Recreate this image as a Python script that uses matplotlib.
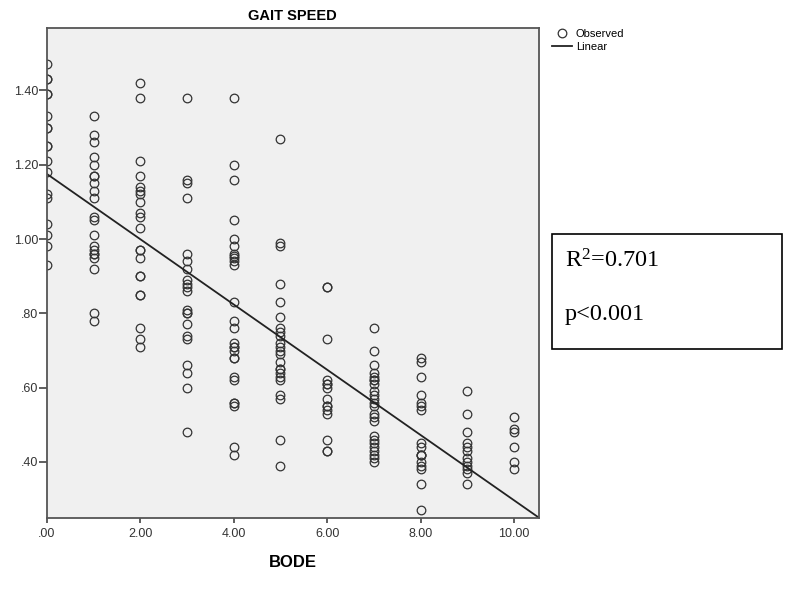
import numpy as np
import matplotlib
matplotlib.use('Agg')
import matplotlib.pyplot as plt
from matplotlib.ticker import FuncFormatter
from matplotlib.patches import Rectangle

# BODE score (x) and gait speed values, one list per score
bode_scores = [0, 1, 2, 3, 4, 5, 6, 7, 8, 9, 10]
speed_0 = [1.47, 1.43, 1.43, 1.39, 1.39, 1.33, 1.30, 1.30, 1.25, 1.25, 1.21, 1.18,
           1.12, 1.11, 1.04, 1.01, 0.98, 0.93]
speed_1 = [1.33, 1.28, 1.26, 1.22, 1.20, 1.17, 1.17, 1.15, 1.13, 1.11, 1.06, 1.05,
           1.01, 0.98, 0.97, 0.96, 0.96, 0.95, 0.92, 0.80, 0.78]
speed_2 = [1.42, 1.38, 1.21, 1.17, 1.14, 1.13, 1.12, 1.10, 1.07, 1.06, 1.03, 0.97,
           0.97, 0.95, 0.90, 0.90, 0.85, 0.85, 0.76, 0.73, 0.71]
speed_3 = [1.38, 1.16, 1.15, 1.11, 0.96, 0.94, 0.92, 0.89, 0.88, 0.87, 0.86, 0.81,
           0.80, 0.80, 0.77, 0.74, 0.73, 0.66, 0.64, 0.60, 0.48]
speed_4 = [1.38, 1.20, 1.16, 1.05, 1.00, 0.98, 0.96, 0.955, 0.95, 0.94, 0.93,
           0.83, 0.78, 0.76, 0.72, 0.71, 0.71, 0.70, 0.68, 0.68, 0.63, 0.62,
           0.56, 0.56, 0.55, 0.44, 0.42]
speed_5 = [1.27, 0.99, 0.98, 0.88, 0.83, 0.79, 0.76, 0.75, 0.74, 0.72, 0.71, 0.70,
           0.69, 0.67, 0.65, 0.65, 0.64, 0.63, 0.62, 0.58, 0.57, 0.46, 0.39]
speed_6 = [0.87, 0.87, 0.73, 0.62, 0.61, 0.61, 0.60, 0.57, 0.55, 0.55, 0.54, 0.53,
           0.46, 0.43, 0.43]
speed_7 = [0.76, 0.70, 0.66, 0.64, 0.63, 0.62, 0.62, 0.61, 0.59, 0.58, 0.57, 0.56,
           0.55, 0.53, 0.52, 0.51, 0.47, 0.46, 0.45, 0.44, 0.43, 0.42, 0.41, 0.40]
speed_8 = [0.68, 0.67, 0.63, 0.58, 0.56, 0.55, 0.54, 0.45, 0.44, 0.42, 0.42, 0.42,
           0.40, 0.39, 0.38, 0.34, 0.27]
speed_9 = [0.59, 0.53, 0.48, 0.45, 0.44, 0.43, 0.41, 0.40, 0.39, 0.38, 0.37, 0.34]
speed_10 = [0.52, 0.49, 0.48, 0.44, 0.40, 0.38]
speeds = [speed_0, speed_1, speed_2, speed_3, speed_4, speed_5,
          speed_6, speed_7, speed_8, speed_9, speed_10]

# fitted linear model as shown
fit_intercept = 1.175
fit_slope = -0.0878
r_squared = '0.701'
p_value = '0.001'

xticks = [0, 2, 4, 6, 8, 10]
yticks = [0.40, 0.60, 0.80, 1.00, 1.20, 1.40]
xlim = (0, 10.53)
ylim = (0.25, 1.568)

plt.rcParams['font.family'] = ['Liberation Sans', 'DejaVu Sans']
plt.rcParams['mathtext.fontset'] = 'custom'
plt.rcParams['mathtext.rm'] = 'Liberation Serif'
plt.rcParams['mathtext.default'] = 'rm'

x = np.concatenate([[b] * len(s) for b, s in zip(bode_scores, speeds)])
y = np.concatenate(speeds)

fig = plt.figure(figsize=(7.99, 6.05), dpi=100)
ax = fig.add_axes([47 / 799, 1 - 517.7 / 605, 491.7 / 799, 489.7 / 605])
ax.set_facecolor('#f0f0f0')

ax.plot(x, y, 'o', markersize=6.2, markerfacecolor='none',
        markeredgecolor='#333333', markeredgewidth=0.9, label='Observed')
xl = np.array(xlim)
ax.plot(xl, fit_intercept + fit_slope * xl, color='#222222', lw=1.3,
        label='Linear')

ax.set_xlim(*xlim)
ax.set_ylim(*ylim)
ax.set_xticks(xticks)
ax.set_yticks(yticks)


def spss_fmt(v, pos):
    s = '%.2f' % v
    return s[1:] if s.startswith('0') else s


ax.xaxis.set_major_formatter(FuncFormatter(spss_fmt))
ax.yaxis.set_major_formatter(FuncFormatter(spss_fmt))
ax.tick_params(axis='y', length=6, width=1.1, pad=0.5, labelsize=9,
               colors='#333333', direction='out')
ax.tick_params(axis='x', length=3.5, width=1.1, pad=4, labelsize=9,
               colors='#333333', direction='out')
for sp in ax.spines.values():
    sp.set_color('#555555')
    sp.set_linewidth(1.3)

ax.set_title('GAIT SPEED', fontsize=10.5, fontweight='bold', pad=6)
ax.set_xlabel('BODE', fontsize=12, fontweight='bold', labelpad=11)

leg = ax.legend(loc='upper left', bbox_to_anchor=(552 / 799, 1 - 29 / 605),
                bbox_transform=fig.transFigure, frameon=False, fontsize=8,
                handlelength=1.8, handletextpad=0.35, labelspacing=0.3,
                borderpad=0, borderaxespad=0)

# statistics box
fig.add_artist(Rectangle((551.7 / 799, 1 - 349 / 605), 230.6 / 799, 114.7 / 605,
                         transform=fig.transFigure, fill=False,
                         edgecolor='black', lw=1.2))
fig.text(565 / 799, 1 - 268 / 605, 'R$^{2}$=' + r_squared,
         family=['Liberation Serif', 'DejaVu Serif'], fontsize=17.5,
         va='baseline', ha='left')
fig.text(565 / 799, 1 - 320 / 605, 'p<' + p_value,
         family=['Liberation Serif', 'DejaVu Serif'], fontsize=17.5,
         va='baseline', ha='left')

fig.savefig('out.png', dpi=100, facecolor='white')
